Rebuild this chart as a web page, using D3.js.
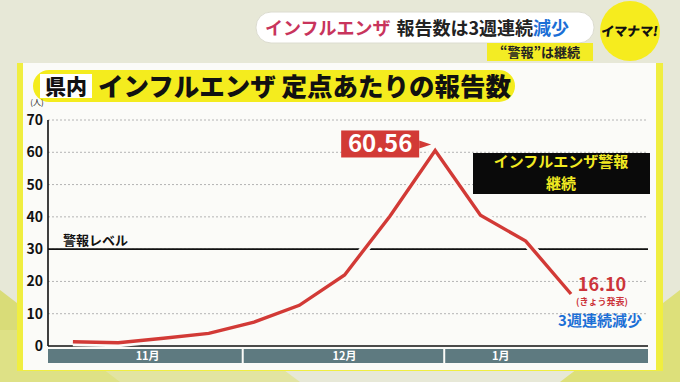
<!DOCTYPE html>
<html lang="ja">
<head>
<meta charset="UTF-8">
<title>県内 インフルエンザ 定点あたりの報告数</title>
<script src="https://d3js.org/d3.v7.min.js"></script>
<style>
  body { margin: 0; background: #e8e9d8; }
  svg { display: block; font-family: "Noto Sans CJK JP", "Noto Sans", sans-serif; }
</style>
</head>
<body>
<div id="chart"></div>
<script>
// weekly reports per sentinel site (index = week number)
const weeks = [0, 1, 2, 3, 4, 5, 6, 7, 8, 9, 10, 11];
const reports = [1.3, 1.0, 2.4, 3.9, 7.4, 12.6, 22.0, 40.2, 60.56, 40.5, 32.5, 16.10];
const months = ["11月", "12月", "1月"];
const monthEdges = [-0.55, 3.75, 8.2, 12.7];
const monthLabelAt = [1.65, 6.0, 9.45];
const yTicks = [0, 10, 20, 30, 40, 50, 60, 70];
const alertLevel = 30;

const W = 680, H = 382;
const svg = d3.select("#chart").append("svg").attr("width", W).attr("height", H);

// background texture-ish
svg.append("rect").attr("width", W).attr("height", H).attr("fill", "#e7e8d7");
svg.append("path").attr("d", "M0,290 L120,382 L0,382 Z").attr("fill", "#d9dc78");
svg.append("path").attr("d", "M0,330 L230,330 L300,382 L0,382 Z").attr("fill", "#dfe28c").attr("opacity", 0.7);
svg.append("path").attr("d", "M680,290 L680,382 L560,382 Z").attr("fill", "#dde07a");

// panel
svg.append("rect").attr("x", 17).attr("y", 63).attr("width", 646).attr("height", 308).attr("fill", "#f0ee40");
svg.append("rect").attr("x", 23).attr("y", 63).attr("width", 633).attr("height", 307).attr("fill", "#fbfbf8");

// header
svg.append("rect").attr("x", 256).attr("y", 12).attr("width", 338).attr("height", 31).attr("rx", 15)
  .attr("fill", "#ffffff").attr("stroke", "#dcdcd0");
svg.append("rect").attr("x", 487).attr("y", 43).attr("width", 106).attr("height", 18).attr("fill", "#f3ec24");
const head = svg.append("text").attr("x", 265).attr("y", 35).attr("font-size", 18).attr("font-weight", 700);
head.append("tspan").attr("fill", "#c8345c").text("インフルエンザ");
head.append("tspan").attr("fill", "#222").attr("dx", 6).text("報告数は3週連続");
head.append("tspan").attr("fill", "#1b6fd6").text("減少");
svg.append("text").attr("x", 540).attr("y", 57).attr("text-anchor", "middle").attr("font-size", 13)
  .attr("font-weight", 700).attr("fill", "#222").text("“警報”は継続");
svg.append("circle").attr("cx", 630).attr("cy", 31).attr("r", 30).attr("fill", "#f6ec1e");
svg.append("text").attr("x", 630).attr("y", 36).attr("text-anchor", "middle").attr("font-size", 13)
  .attr("font-weight", 900).attr("fill", "#111").attr("transform", "skewX(-8) translate(4,0)").text("イマナマ!");

// title pill
svg.append("rect").attr("x", 33).attr("y", 70).attr("width", 482).attr("height", 32).attr("rx", 16).attr("fill", "#f4ec1e");
svg.append("rect").attr("x", 40).attr("y", 74).attr("width", 52).attr("height", 24).attr("fill", "#ffffff");
svg.append("text").attr("x", 66).attr("y", 94).attr("text-anchor", "middle").attr("font-size", 21)
  .attr("font-weight", 900).attr("fill", "#111").text("県内");
svg.append("text").attr("x", 98).attr("y", 96).attr("font-size", 25.5).attr("font-weight", 900)
  .attr("fill", "#111").text("インフルエンザ 定点あたりの報告数");

// scales
const x = d3.scaleLinear().domain([monthEdges[0], monthEdges[3]]).range([48, 648]);
const y = d3.scaleLinear().domain([0, 70]).range([346, 120]);

// grid
svg.append("g").selectAll("line").data(yTicks.filter(d => d > 0)).join("line")
  .attr("x1", x.range()[0]).attr("x2", x.range()[1])
  .attr("y1", d => y(d)).attr("y2", d => y(d))
  .attr("stroke", "#b4b4b4").attr("stroke-width", 1).attr("stroke-dasharray", "2,2");

// y axis labels
const yAxis = d3.axisLeft(y).tickValues(yTicks).tickSize(0).tickPadding(5);
const ya = svg.append("g").attr("transform", `translate(${x.range()[0]},0)`).call(yAxis);
ya.select(".domain").remove();
ya.selectAll("text").attr("font-size", 14).attr("font-weight", 700).attr("fill", "#111")
  .attr("font-family", "'Noto Sans CJK JP', sans-serif");
svg.append("text").attr("x", 37).attr("y", 105).attr("text-anchor", "middle").attr("font-size", 8)
  .attr("fill", "#111").text("(人)");

// alert level
svg.append("line").attr("x1", x.range()[0]).attr("x2", x.range()[1])
  .attr("y1", y(alertLevel)).attr("y2", y(alertLevel)).attr("stroke", "#111").attr("stroke-width", 1.6);
svg.append("text").attr("x", 63).attr("y", 245).attr("font-size", 13).attr("font-weight", 700)
  .attr("fill", "#111").text("警報レベル");

// axes lines
svg.append("line").attr("x1", 48).attr("x2", 48).attr("y1", y(70)).attr("y2", y(0)).attr("stroke", "#111").attr("stroke-width", 1.6);
svg.append("line").attr("x1", 48).attr("x2", 648).attr("y1", y(0)).attr("y2", y(0)).attr("stroke", "#111").attr("stroke-width", 1.6);

// month bar
const mb = svg.append("g");
mb.selectAll("rect").data(months).join("rect")
  .attr("x", (d, i) => x(monthEdges[i]) + (i ? 1 : 0))
  .attr("width", (d, i) => x(monthEdges[i + 1]) - x(monthEdges[i]) - (i ? 1 : 0) - (i < 2 ? 1 : 0))
  .attr("y", 349).attr("height", 14).attr("fill", "#5e7a80");
mb.selectAll("text").data(months).join("text")
  .attr("x", (d, i) => x(monthLabelAt[i]))
  .attr("y", 360).attr("text-anchor", "middle").attr("font-size", 11).attr("font-weight", 700)
  .attr("fill", "#ffffff").text(d => d);

// data line with white halo
const line = d3.line().x((d, i) => x(weeks[i])).y(d => y(d));
svg.append("path").datum(reports).attr("d", line).attr("fill", "none")
  .attr("stroke", "#fbfbf8").attr("stroke-width", 9).attr("stroke-linejoin", "miter");
svg.append("path").datum(reports).attr("d", line).attr("fill", "none")
  .attr("stroke", "#d23a36").attr("stroke-width", 3.4).attr("stroke-linejoin", "miter");

// peak label
const pi = reports.indexOf(d3.max(reports));
const px = x(weeks[pi]), py = y(reports[pi]);
svg.append("path").attr("d", `M${px - 16},${py - 10} L${px - 4},${py - 6} L${px - 16},${py - 2} Z`).attr("fill", "#d23a36");
svg.append("rect").attr("x", px - 94).attr("y", py - 20).attr("width", 78).attr("height", 27).attr("fill", "#d23a36");
svg.append("text").attr("x", px - 55).attr("y", py + 2).attr("text-anchor", "middle").attr("font-size", 24)
  .attr("font-weight", 700).attr("fill", "#ffffff").text(reports[pi].toFixed(2));

// warning box
svg.append("rect").attr("x", 473).attr("y", 153).attr("width", 177).attr("height", 41).attr("fill", "#0a0a0a");
svg.append("text").attr("x", 561).attr("y", 167).attr("text-anchor", "middle").attr("font-size", 15)
  .attr("font-weight", 700).attr("fill", "#f2ea22").text("インフルエンザ警報");
svg.append("text").attr("x", 561).attr("y", 189).attr("text-anchor", "middle").attr("font-size", 15)
  .attr("font-weight", 700).attr("fill", "#f2ea22").text("継続");

// last value
const li = reports.length - 1;
const lx = x(weeks[li]);
svg.append("text").attr("x", lx + 31).attr("y", 291).attr("text-anchor", "middle").attr("font-size", 18)
  .attr("font-weight", 700).attr("fill", "#cc343a").text(reports[li].toFixed(2));
svg.append("text").attr("x", lx + 31).attr("y", 305).attr("text-anchor", "middle").attr("font-size", 9)
  .attr("font-weight", 700).attr("fill", "#cc343a").text("(きょう発表)");
svg.append("text").attr("x", lx + 29).attr("y", 326).attr("text-anchor", "middle").attr("font-size", 15)
  .attr("font-weight", 700).attr("fill", "#1b6fd6").text("3週連続減少");
</script>
</body>
</html>
